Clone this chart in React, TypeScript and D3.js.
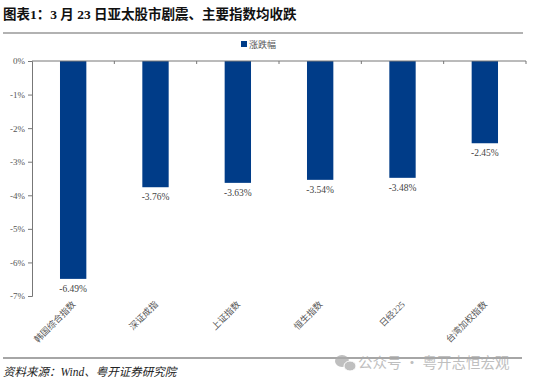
import React, { useEffect, useRef } from 'react';
import * as d3 from 'd3';

const categories = ['韩国综合指数', '深证成指', '上证指数', '恒生指数', '日经225', '台湾加权指数'];
const changes = [-6.49, -3.76, -3.63, -3.54, -3.48, -2.45];
const yTicks = [0, -1, -2, -3, -4, -5, -6, -7];

const serif = '"Liberation Serif", "Noto Sans CJK SC", serif';
const cjk = '"Liberation Serif", "Noto Sans CJK SC", sans-serif';

const App: React.FC = () => {
  const svgRef = useRef<SVGSVGElement | null>(null);

  useEffect(() => {
    const svg = d3.select(svgRef.current);
    svg.selectAll('*').remove();

    const left = 32, right = 526, top = 61, bottom = 296;

    const x = d3.scaleBand<string>()
      .domain(categories)
      .range([left, right])
      .paddingInner(0.68)
      .paddingOuter(0.34);

    const y = d3.scaleLinear()
      .domain([-7, 0])
      .range([bottom, top]);

    // title
    svg.append('text')
      .attr('x', 3).attr('y', 19)
      .attr('font-family', cjk)
      .attr('font-weight', 'bold')
      .attr('font-size', 13.5)
      .attr('fill', '#111')
      .text('图表1：3 月 23 日亚太股市剧震、主要指数均收跌');
    svg.append('line')
      .attr('x1', 3).attr('x2', 523).attr('y1', 33).attr('y2', 33)
      .attr('stroke', '#999').attr('stroke-width', 1.5);

    // legend
    svg.append('rect')
      .attr('x', 241).attr('y', 41).attr('width', 6).attr('height', 6)
      .attr('fill', '#003c88');
    svg.append('text')
      .attr('x', 249).attr('y', 47.5)
      .attr('font-family', cjk).attr('font-size', 9).attr('fill', '#555')
      .text('涨跌幅');

    // y axis
    const yAxis = svg.append('g')
      .attr('transform', `translate(${left},0)`)
      .call(d3.axisLeft(y).tickValues(yTicks).tickSize(4).tickSizeOuter(4).tickFormat(d => `${d}%`));
    yAxis.select('.domain').attr('stroke', '#777');
    yAxis.selectAll('.tick line').attr('stroke', '#777');
    yAxis.selectAll('.tick text')
      .attr('font-family', serif).attr('font-size', 9).attr('fill', '#555')
      .attr('x', -7);

    // bars
    svg.selectAll('.bar')
      .data(categories)
      .enter()
      .append('rect')
      .attr('class', 'bar')
      .attr('x', d => x(d) as number)
      .attr('y', y(0))
      .attr('width', x.bandwidth())
      .attr('height', (d, i) => y(changes[i]) - y(0))
      .attr('fill', '#003c88');

    // value labels
    svg.selectAll('.val')
      .data(categories)
      .enter()
      .append('text')
      .attr('class', 'val')
      .attr('x', d => (x(d) as number) + x.bandwidth() / 2)
      .attr('y', (d, i) => y(changes[i]) + 13)
      .attr('text-anchor', 'middle')
      .attr('font-family', serif).attr('font-size', 9.5).attr('fill', '#444')
      .text((d, i) => `${changes[i].toFixed(2)}%`);

    // x axis at zero
    const step = x.step();
    const xAxis = svg.append('g');
    xAxis.append('line')
      .attr('x1', left).attr('x2', right).attr('y1', y(0)).attr('y2', y(0))
      .attr('stroke', '#777');
    categories.forEach((c, i) => {
      const bx = left + step * (i + 1);
      xAxis.append('line')
        .attr('x1', bx).attr('x2', bx).attr('y1', y(0)).attr('y2', y(0) + 3)
        .attr('stroke', '#777');
    });

    // category labels rotated
    svg.selectAll('.cat')
      .data(categories)
      .enter()
      .append('text')
      .attr('class', 'cat')
      .attr('transform', d => `translate(${(x(d) as number) + x.bandwidth() / 2 + 3},${bottom + 9}) rotate(-45)`)
      .attr('text-anchor', 'end')
      .attr('font-family', cjk).attr('font-size', 9).attr('fill', '#555')
      .text(d => d);

    // footer
    svg.append('line')
      .attr('x1', 3).attr('x2', 522).attr('y1', 358).attr('y2', 358)
      .attr('stroke', '#888').attr('stroke-width', 1.5);
    svg.append('text')
      .attr('x', 3).attr('y', 376)
      .attr('font-family', cjk).attr('font-style', 'italic').attr('font-size', 11.5)
      .attr('fill', '#222')
      .text('资料来源：Wind、粤开证券研究院');

    // watermark
    const wm = svg.append('g').attr('opacity', 0.75);
    wm.append('ellipse').attr('cx', 342).attr('cy', 361).attr('rx', 7).attr('ry', 6).attr('fill', '#aaa');
    wm.append('ellipse').attr('cx', 350).attr('cy', 366).attr('rx', 6).attr('ry', 5).attr('fill', '#aaa')
      .attr('stroke', '#fff').attr('stroke-width', 1);
    wm.append('text')
      .attr('x', 358).attr('y', 368)
      .attr('font-family', '"Noto Sans CJK SC", sans-serif').attr('font-size', 14.5)
      .attr('fill', '#aaa')
      .text('公众号 · 粤开志恒宏观');
  }, []);

  return (
    <div>
      <svg ref={svgRef} width={550} height={384} style={{ position: 'absolute', left: 0, top: 0, background: '#fff' }}></svg>
    </div>
  );
};

export default App;
